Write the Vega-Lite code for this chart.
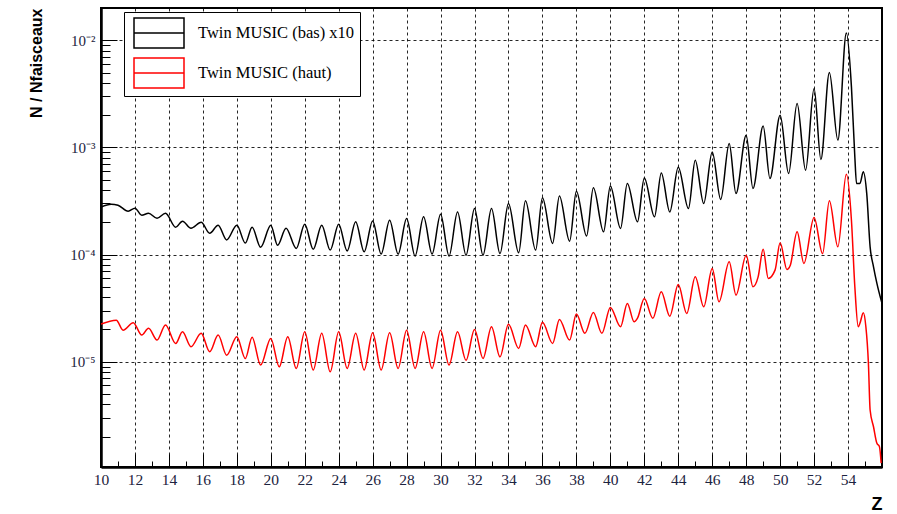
{
  "$schema": "https://vega.github.io/schema/vega-lite/v6.json",
  "width": 781,
  "height": 459,
  "autosize": {"type": "none"},
  "padding": {"left": 101, "top": 8, "right": 15, "bottom": 47},
  "background": "white",
  "config": {"view": {"stroke": "black", "strokeWidth": 2}},
  "datasets": {
    "bas": [
      {"z":10.0,"v":2.78e-4},{"z":10.6,"v":2.95e-4},{"z":11.0,"v":2.89e-4},{"z":11.6,"v":2.54e-4},{"z":12.0,"v":2.71e-4},{"z":12.4,"v":2.33e-4},{"z":12.8,"v":2.43e-4},{"z":13.3,"v":2.18e-4},{"z":13.8,"v":2.43e-4},{"z":14.4,"v":1.80e-4},{"z":14.8,"v":2.05e-4},{"z":15.3,"v":1.76e-4},{"z":15.9,"v":2.00e-4},{"z":16.4,"v":1.58e-4},{"z":16.9,"v":1.88e-4},{"z":17.4,"v":1.37e-4},{"z":18.0,"v":1.88e-4},{"z":18.5,"v":1.28e-4},{"z":18.9,"v":1.80e-4},{"z":19.4,"v":1.17e-4},{"z":20.0,"v":1.88e-4},{"z":20.4,"v":1.22e-4},{"z":20.9,"v":1.76e-4},{"z":21.5,"v":1.14e-4},{"z":22.0,"v":1.92e-4},{"z":22.5,"v":1.12e-4},{"z":23.0,"v":1.88e-4},{"z":23.5,"v":1.10e-4},{"z":24.0,"v":1.92e-4},{"z":24.5,"v":1.08e-4},{"z":25.0,"v":2.02e-4},{"z":25.5,"v":1.06e-4},{"z":26.0,"v":2.06e-4},{"z":26.5,"v":1.01e-4},{"z":27.0,"v":2.09e-4},{"z":27.5,"v":1.01e-4},{"z":28.0,"v":2.17e-4},{"z":28.5,"v":9.66e-5},{"z":29.0,"v":2.25e-4},{"z":29.5,"v":1.01e-4},{"z":30.0,"v":2.38e-4},{"z":30.5,"v":9.66e-5},{"z":31.0,"v":2.50e-4},{"z":31.5,"v":9.87e-5},{"z":32.0,"v":2.69e-4},{"z":32.5,"v":9.87e-5},{"z":33.0,"v":2.69e-4},{"z":33.5,"v":1.02e-4},{"z":34.0,"v":3.00e-4},{"z":34.6,"v":1.04e-4},{"z":35.0,"v":3.17e-4},{"z":35.6,"v":1.10e-4},{"z":36.0,"v":3.38e-4},{"z":36.6,"v":1.27e-4},{"z":37.0,"v":3.51e-4},{"z":37.6,"v":1.33e-4},{"z":38.0,"v":3.90e-4},{"z":38.6,"v":1.49e-4},{"z":39.0,"v":4.19e-4},{"z":39.6,"v":1.63e-4},{"z":40.0,"v":4.37e-4},{"z":40.6,"v":1.75e-4},{"z":41.0,"v":4.61e-4},{"z":41.6,"v":2.02e-4},{"z":42.0,"v":5.19e-4},{"z":42.6,"v":2.25e-4},{"z":43.0,"v":5.78e-4},{"z":43.5,"v":2.50e-4},{"z":44.0,"v":6.54e-4},{"z":44.6,"v":2.69e-4},{"z":45.0,"v":7.60e-4},{"z":45.5,"v":3.00e-4},{"z":46.0,"v":9.08e-4},{"z":46.5,"v":3.27e-4},{"z":47.0,"v":1.09e-3},{"z":47.4,"v":3.71e-4},{"z":48.0,"v":1.30e-3},{"z":48.4,"v":4.14e-4},{"z":49.0,"v":1.58e-3},{"z":49.4,"v":5.13e-4},{"z":50.0,"v":2.00e-3},{"z":50.5,"v":5.71e-4},{"z":51.0,"v":2.57e-3},{"z":51.5,"v":6.13e-4},{"z":52.0,"v":3.54e-3},{"z":52.4,"v":7.71e-4},{"z":52.9,"v":5.00e-3},{"z":53.4,"v":1.17e-3},{"z":53.9,"v":1.17e-2},{"z":54.2,"v":3.67e-3},{"z":54.4,"v":8.15e-4},{"z":54.5,"v":4.61e-4},{"z":54.7,"v":4.61e-4},{"z":54.9,"v":5.91e-4},{"z":55.1,"v":3.72e-4},{"z":55.3,"v":1.18e-4},{"z":55.5,"v":7.68e-5},{"z":55.7,"v":5.38e-5},{"z":56.0,"v":3.50e-5}
    ],
    "haut": [
      {"z":10.0,"v":2.24e-5},{"z":10.9,"v":2.44e-5},{"z":11.3,"v":1.97e-5},{"z":11.9,"v":2.31e-5},{"z":12.4,"v":1.77e-5},{"z":12.8,"v":2.05e-5},{"z":13.3,"v":1.59e-5},{"z":13.8,"v":2.20e-5},{"z":14.4,"v":1.48e-5},{"z":14.8,"v":1.90e-5},{"z":15.3,"v":1.38e-5},{"z":15.9,"v":1.84e-5},{"z":16.4,"v":1.24e-5},{"z":16.9,"v":1.77e-5},{"z":17.4,"v":1.15e-5},{"z":18.0,"v":1.71e-5},{"z":18.5,"v":1.07e-5},{"z":18.9,"v":1.69e-5},{"z":19.4,"v":9.3e-6},{"z":20.0,"v":1.65e-5},{"z":20.5,"v":8.96e-6},{"z":21.0,"v":1.71e-5},{"z":21.5,"v":8.66e-6},{"z":22.0,"v":1.90e-5},{"z":22.5,"v":8.35e-6},{"z":23.0,"v":1.84e-5},{"z":23.5,"v":8.05e-6},{"z":24.0,"v":1.90e-5},{"z":24.5,"v":8.66e-6},{"z":25.0,"v":1.84e-5},{"z":25.5,"v":8.35e-6},{"z":26.0,"v":1.86e-5},{"z":26.5,"v":8.35e-6},{"z":27.0,"v":1.86e-5},{"z":27.5,"v":8.66e-6},{"z":28.0,"v":1.97e-5},{"z":28.5,"v":8.66e-6},{"z":29.0,"v":1.90e-5},{"z":29.5,"v":8.66e-6},{"z":30.0,"v":1.97e-5},{"z":30.5,"v":9.3e-6},{"z":31.0,"v":1.90e-5},{"z":31.5,"v":1.03e-5},{"z":32.0,"v":2.00e-5},{"z":32.5,"v":1.07e-5},{"z":33.0,"v":2.12e-5},{"z":33.5,"v":1.11e-5},{"z":34.0,"v":2.23e-5},{"z":34.6,"v":1.33e-5},{"z":35.0,"v":2.20e-5},{"z":35.6,"v":1.38e-5},{"z":36.0,"v":2.33e-5},{"z":36.6,"v":1.48e-5},{"z":37.0,"v":2.48e-5},{"z":37.6,"v":1.59e-5},{"z":38.0,"v":2.78e-5},{"z":38.5,"v":1.84e-5},{"z":39.0,"v":2.88e-5},{"z":39.5,"v":1.84e-5},{"z":40.0,"v":3.21e-5},{"z":40.6,"v":2.12e-5},{"z":41.0,"v":3.50e-5},{"z":41.4,"v":2.36e-5},{"z":41.6,"v":2.55e-5},{"z":42.0,"v":3.89e-5},{"z":42.5,"v":2.54e-5},{"z":43.0,"v":4.49e-5},{"z":43.5,"v":2.66e-5},{"z":44.0,"v":5.24e-5},{"z":44.5,"v":2.82e-5},{"z":45.0,"v":6.19e-5},{"z":45.5,"v":3.25e-5},{"z":46.0,"v":7.42e-5},{"z":46.4,"v":3.62e-5},{"z":47.0,"v":8.55e-5},{"z":47.4,"v":4.18e-5},{"z":48.0,"v":9.87e-5},{"z":48.4,"v":5.0e-5},{"z":48.7,"v":6.15e-5},{"z":49.0,"v":1.12e-4},{"z":49.3,"v":5.98e-5},{"z":49.7,"v":7.15e-5},{"z":50.0,"v":1.29e-4},{"z":50.4,"v":7.26e-5},{"z":50.6,"v":7.96e-5},{"z":51.0,"v":1.63e-4},{"z":51.4,"v":8.26e-5},{"z":52.0,"v":2.22e-4},{"z":52.5,"v":1.02e-4},{"z":52.9,"v":3.17e-4},{"z":53.4,"v":1.18e-4},{"z":53.9,"v":5.62e-4},{"z":54.2,"v":2.09e-4},{"z":54.4,"v":5.0e-5},{"z":54.6,"v":2.12e-5},{"z":54.7,"v":2.28e-5},{"z":54.9,"v":2.86e-5},{"z":55.05,"v":2.12e-5},{"z":55.2,"v":9.64e-6},{"z":55.3,"v":3.54e-6},{"z":55.5,"v":2.47e-6},{"z":55.7,"v":1.73e-6},{"z":55.85,"v":1.61e-6},{"z":55.95,"v":1.13e-6}
    ]
  },
  "layer": [
    {
      "data": {"name": "bas"},
      "transform": [{"calculate": "'Twin MUSIC (bas) x10'", "as": "s"}],
      "mark": {"type": "line", "interpolate": "monotone", "strokeWidth": 1.5, "clip": true},
      "encoding": {
        "x": {"field": "z", "type": "quantitative"},
        "y": {"field": "v", "type": "quantitative"},
        "color": {"field": "s", "type": "nominal"}
      }
    },
    {
      "data": {"name": "haut"},
      "transform": [{"calculate": "'Twin MUSIC (haut)'", "as": "s"}],
      "mark": {"type": "line", "interpolate": "monotone", "strokeWidth": 1.5, "clip": true},
      "encoding": {
        "x": {"field": "z", "type": "quantitative"},
        "y": {"field": "v", "type": "quantitative"},
        "color": {"field": "s", "type": "nominal"}
      }
    }
  ],
  "encoding": {
    "x": {
      "field": "z", "type": "quantitative",
      "scale": {"domain": [10, 56], "nice": false, "zero": false},
      "axis": {
        "values": [10,11,12,13,14,15,16,17,18,19,20,21,22,23,24,25,26,27,28,29,30,31,32,33,34,35,36,37,38,39,40,41,42,43,44,45,46,47,48,49,50,51,52,53,54,55,56],
        "labelExpr": "datum.value % 2 == 0 && datum.value <= 54 ? datum.label : ''",
        "labelFlush": false, "labelOverlap": false, "labelBound": false,
        "grid": true, "gridColor": "black", "gridDash": [3, 3], "gridWidth": 1,
        "gridOpacity": {"condition": {"test": "datum.value % 2 == 0 && datum.value > 10 && datum.value < 56", "value": 0.85}, "value": 0},
        "tickSize": {"condition": {"test": "datum.value % 2 == 0", "value": -13}, "value": -6},
        "tickColor": "black", "tickWidth": 1,
        "domainColor": "black", "domainWidth": 2.5,
        "labelFont": "Liberation Serif", "labelFontSize": 15.5, "labelColor": "#1c2340", "labelPadding": 18,
        "title": "Z", "titleFont": "Liberation Sans", "titleFontSize": 18, "titleFontWeight": "bold",
        "titleColor": "black", "titleAnchor": "end", "titlePadding": 1
      }
    },
    "y": {
      "field": "v", "type": "quantitative",
      "scale": {"type": "log", "domain": [1.04e-6, 0.02], "nice": false},
      "axis": {
        "values": [2e-6,3e-6,4e-6,5e-6,6e-6,7e-6,8e-6,9e-6,1e-5,2e-5,3e-5,4e-5,5e-5,6e-5,7e-5,8e-5,9e-5,1e-4,2e-4,3e-4,4e-4,5e-4,6e-4,7e-4,8e-4,9e-4,1e-3,2e-3,3e-3,4e-3,5e-3,6e-3,7e-3,8e-3,9e-3,1e-2],
        "labelExpr": "abs(log(datum.value)/LN10+2)<0.001 ? '10⁻²' : abs(log(datum.value)/LN10+3)<0.001 ? '10⁻³' : abs(log(datum.value)/LN10+4)<0.001 ? '10⁻⁴' : abs(log(datum.value)/LN10+5)<0.001 ? '10⁻⁵' : ''",
        "labelFlush": false, "labelOverlap": false, "labelBound": false,
        "grid": true, "gridColor": "black", "gridDash": [3, 3], "gridWidth": 1,
        "gridOpacity": {"condition": {"test": "abs(log(datum.value)/LN10 - round(log(datum.value)/LN10)) < 0.001", "value": 0.85}, "value": 0},
        "tickSize": {"condition": {"test": "abs(log(datum.value)/LN10 - round(log(datum.value)/LN10)) < 0.001", "value": -16}, "value": -9},
        "tickColor": "black", "tickWidth": 1,
        "domainColor": "black", "domainWidth": 2.5,
        "labelFont": "Liberation Serif", "labelFontSize": 15, "labelColor": "#1c2340", "labelPadding": 22,
        "title": "N / Nfaisceaux", "titleFont": "Liberation Sans", "titleFontSize": 16, "titleFontWeight": "bold",
        "titleColor": "black", "titleAnchor": "end", "titlePadding": 25
      }
    },
    "color": {
      "field": "s", "type": "nominal",
      "scale": {"domain": ["Twin MUSIC (bas) x10", "Twin MUSIC (haut)"], "range": ["#000000", "#ff0000"]},
      "legend": {
        "orient": "none", "legendX": 23, "legendY": 4, "title": null,
        "symbolType": "M-0.733,-1H2.6V1H-0.733Z M-0.733,0H2.6",
        "symbolSize": 900, "symbolStrokeWidth": 1.5, "symbolFillColor": "transparent",
        "labelFont": "Liberation Serif", "labelFontSize": 16.5, "labelColor": "black",
        "labelOffset": 37, "labelLimit": 300,
        "padding": 5, "rowPadding": 4,
        "strokeColor": "black", "fillColor": "white"
      }
    }
  }
}
